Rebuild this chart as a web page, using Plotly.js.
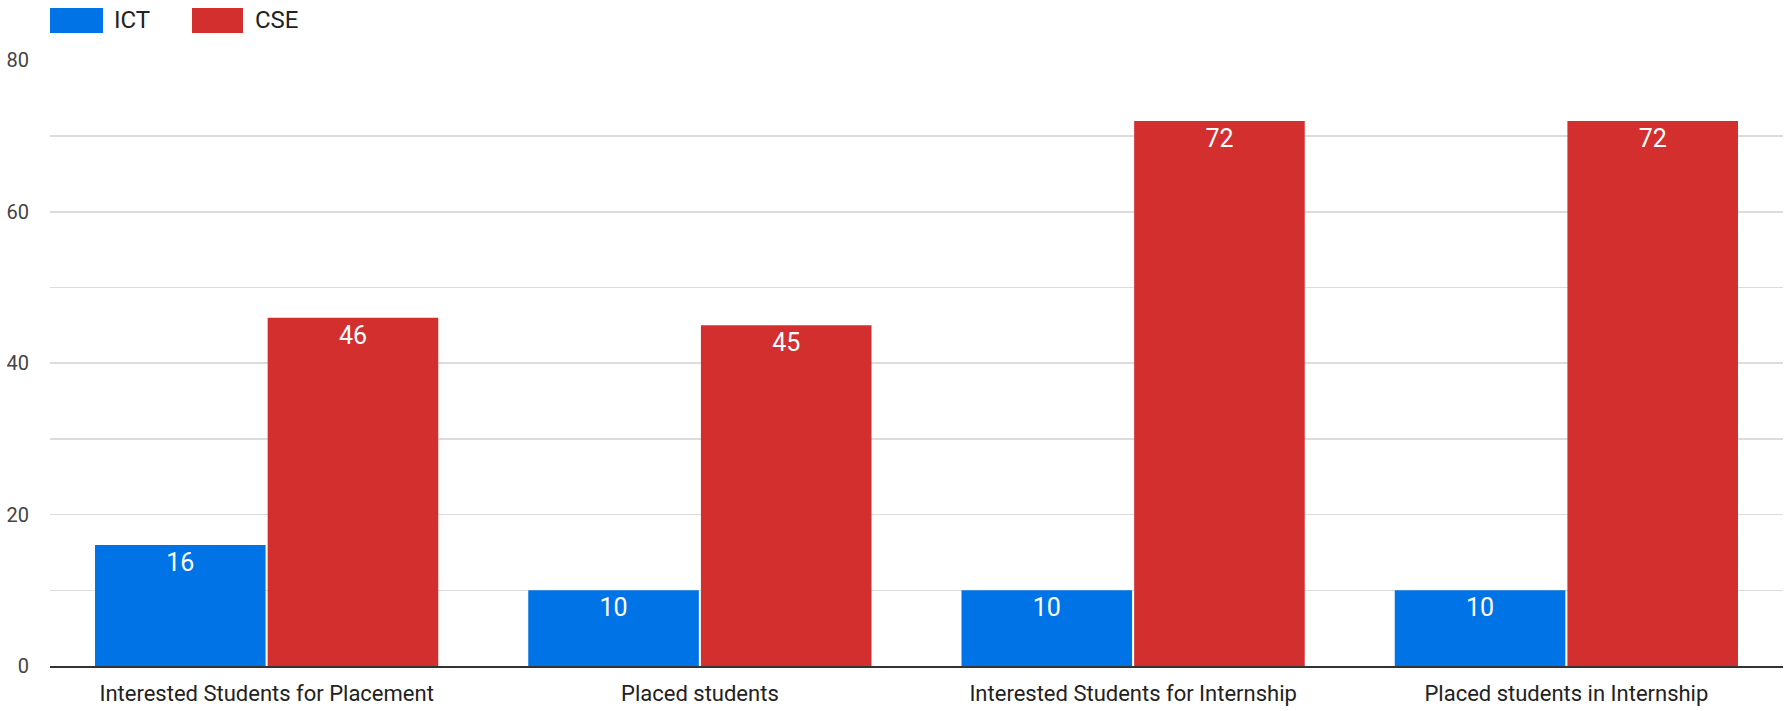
<!DOCTYPE html>
<html>
<head>
<meta charset="utf-8">
<script src="https://cdn.plot.ly/plotly-3.0.1.min.js"></script>
<style>html,body{margin:0;padding:0;background:#fff;}#chart{width:1785px;height:711px;}</style>
</head>
<body>
<div id="chart"></div>
<script>
const categories = ["Interested Students for Placement", "Placed students", "Interested Students for Internship", "Placed students in Internship"];
const ictValues = [16, 10, 10, 10];
const cseValues = [46, 45, 72, 72];
const seriesNames = ["ICT", "CSE"];
const yTickVals = [0, 20, 40, 60, 80];

const colors = ["#0073e6", "#d32f2f"];
const FONT = "Roboto, 'Open Sans', sans-serif";

function barTrace(name, values, color) {
  return {
    type: "bar",
    name: name,
    x: categories,
    y: values,
    text: values.map(String),
    textposition: "inside",
    insidetextanchor: "end",
    textangle: 0,
    textfont: {family: FONT, size: 25, color: "#ffffff", weight: 400},
    marker: {color: color, line: {width: 0}},
    hoverinfo: "x+y+name",
    showlegend: false
  };
}

const data = [
  barTrace(seriesNames[0], ictValues, colors[0]),
  barTrace(seriesNames[1], cseValues, colors[1])
];

const layout = {
  width: 1785,
  height: 711,
  margin: {l: 50, r: 2, t: 60, b: 45},
  paper_bgcolor: "#ffffff",
  plot_bgcolor: "#ffffff",
  barmode: "group",
  bargap: 0.203,
  bargroupgap: 0.012,
  font: {family: FONT, color: "#444"},
  xaxis: {
    type: "category",
    showgrid: false,
    showline: true,
    linecolor: "#333333",
    linewidth: 2,
    ticks: "",
    ticklabelstandoff: 7,
    tickfont: {family: FONT, size: 22, color: "#222"},
    fixedrange: true
  },
  yaxis: {
    range: [0, 80.05],
    tickvals: yTickVals,
    ticktext: yTickVals.map(String),
    showgrid: true,
    gridcolor: "#dcdcdc",
    gridwidth: 1.5,
    zeroline: false,
    showline: false,
    ticks: "",
    ticklabelstandoff: 20,
    tickfont: {family: FONT, size: 20, color: "#444"},
    minor: {dtick: 10, showgrid: true, gridcolor: "#dcdcdc", gridwidth: 1.5, ticks: ""},
    fixedrange: true
  },
  shapes: [
    {type: "rect", xref: "paper", yref: "paper",
      x0: 0, x1: 53 / 1733, y0: 1 + 27 / 606, y1: 1 + 52 / 606,
      fillcolor: colors[0], line: {width: 0}},
    {type: "rect", xref: "paper", yref: "paper",
      x0: 142 / 1733, x1: 193 / 1733, y0: 1 + 27 / 606, y1: 1 + 52 / 606,
      fillcolor: colors[1], line: {width: 0}}
  ],
  annotations: [
    {xref: "paper", yref: "paper", x: 62 / 1733, y: 1 + 40 / 606, xanchor: "left", yanchor: "middle",
      text: seriesNames[0], showarrow: false, font: {family: FONT, size: 24, color: "#222"}},
    {xref: "paper", yref: "paper", x: 203 / 1733, y: 1 + 40 / 606, xanchor: "left", yanchor: "middle",
      text: seriesNames[1], showarrow: false, font: {family: FONT, size: 24, color: "#222"}}
  ]
};

Plotly.newPlot("chart", data, layout, {displayModeBar: false, staticPlot: true});
</script>
</body>
</html>
